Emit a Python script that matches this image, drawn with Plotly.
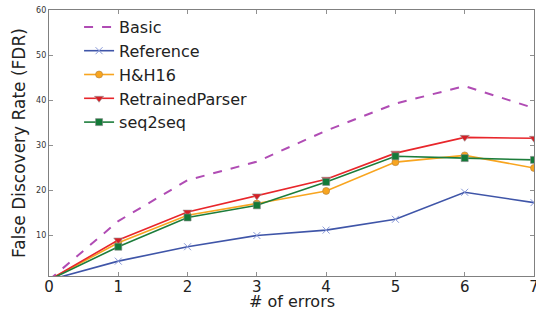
import plotly.graph_objects as go

x_errors = [0, 1, 2, 3, 4, 5, 6, 7]
basic = [0, 13.1, 22.2, 26.3, 33.2, 39.2, 43.1, 38.2]
reference = [0, 4.2, 7.4, 9.9, 11.1, 13.5, 19.5, 17.2]
hh16 = [0, 8.3, 14.4, 17.0, 19.8, 26.2, 27.7, 24.9]
retrained = [0, 8.9, 15.1, 18.7, 22.4, 28.2, 31.7, 31.5]
seq2seq = [0, 7.4, 13.9, 16.6, 21.8, 27.5, 27.1, 26.7]

x_ticks = [0, 1, 2, 3, 4, 5, 6, 7]
y_ticks = [10, 20, 30, 40, 50, 60]

fig = go.Figure()
fig.add_trace(go.Scatter(x=x_errors, y=basic, name="Basic", mode="lines",
                         line=dict(color="#b04cb4", width=2, dash="dash")))
fig.add_trace(go.Scatter(x=x_errors, y=reference, name="Reference", mode="lines+markers",
                         line=dict(color="#3f55a8", width=1.6),
                         marker=dict(symbol="x-thin", size=7, line=dict(color="#8a9ad8", width=1))))
fig.add_trace(go.Scatter(x=x_errors, y=hh16, name="H&H16", mode="lines+markers",
                         line=dict(color="#f8a51f", width=1.6),
                         marker=dict(symbol="circle", size=7, color="#f8a51f", line=dict(color="#b08040", width=0.6))))
fig.add_trace(go.Scatter(x=x_errors, y=retrained, name="RetrainedParser", mode="lines+markers",
                         line=dict(color="#e8262b", width=1.6),
                         marker=dict(symbol="triangle-down", size=8, color="#d61f26", line=dict(color="#999999", width=0.6))))
fig.add_trace(go.Scatter(x=x_errors, y=seq2seq, name="seq2seq", mode="lines+markers",
                         line=dict(color="#1d7d3b", width=1.6),
                         marker=dict(symbol="square", size=7, color="#137a38", line=dict(color="#888888", width=0.6))))

axis_common = dict(showline=True, linecolor="#808080", linewidth=1.2, mirror="ticks",
                   ticks="inside", ticklen=4, tickcolor="#909090", showgrid=False, zeroline=False,
                   automargin=False, ticklabeloverflow="allow")

fig.update_layout(
    width=536, height=312,
    margin=dict(l=49, r=2, t=10, b=36),
    paper_bgcolor="white", plot_bgcolor="white",
    font=dict(family="DejaVu Sans", color="#222222"),
    showlegend=True,
    legend=dict(x=0.062, y=1.0, xanchor="left", yanchor="top",
                bgcolor="rgba(0,0,0,0)", borderwidth=0,
                font=dict(size=16, color="#222222"), tracegroupgap=0, itemwidth=30),
    xaxis=dict(range=[0, 7], tickvals=x_ticks, tickfont=dict(size=15, color="#222222"),
               ticklabelstandoff=-3, **axis_common),
    yaxis=dict(range=[0.9, 60], tickvals=y_ticks, tickfont=dict(size=8, color="#333333"),
               title=dict(text="False Discovery Rate (FDR)", font=dict(size=17), standoff=6), **axis_common),
    annotations=[dict(text="# of errors", xref="paper", yref="paper", x=0.5, y=-0.097,
                      xanchor="center", yanchor="middle", showarrow=False,
                      font=dict(size=16, color="#222222"))],
)
fig.write_html("out.html", post_script="document.body.style.margin='0px';",
               config={"displayModeBar": False})
